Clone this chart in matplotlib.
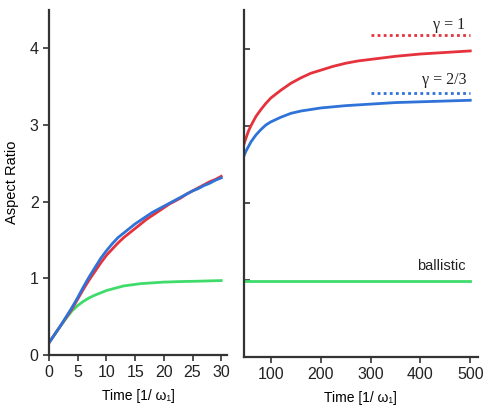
import matplotlib
matplotlib.use("Agg")
import matplotlib.pyplot as plt

plt.rcParams["font.family"] = ["Liberation Sans", "DejaVu Sans"]

# early times (left panel)
t_short = [0, 1, 2, 3, 4, 5, 6, 7, 8, 9, 10, 11, 12, 13, 14, 15, 16, 17, 18, 19, 20,
           21, 22, 23, 24, 25, 26, 27, 28, 29, 30]
red_short = [0.16, 0.27, 0.38, 0.49, 0.60, 0.73, 0.86, 0.98, 1.09, 1.20, 1.30, 1.38, 1.46,
             1.53, 1.59, 1.65, 1.71, 1.77, 1.82, 1.87, 1.92, 1.97, 2.01, 2.05, 2.10, 2.14,
             2.18, 2.22, 2.26, 2.29, 2.33]
blue_short = [0.16, 0.27, 0.38, 0.50, 0.62, 0.75, 0.89, 1.02, 1.14, 1.26, 1.36, 1.45, 1.53,
              1.59, 1.65, 1.71, 1.76, 1.81, 1.86, 1.90, 1.94, 1.98, 2.02, 2.06, 2.10, 2.14,
              2.17, 2.21, 2.24, 2.28, 2.31]
green_short = [0.16, 0.27, 0.38, 0.48, 0.575, 0.645, 0.70, 0.745, 0.78, 0.81, 0.84, 0.86, 0.88,
               0.90, 0.91, 0.92, 0.93, 0.935, 0.94, 0.945, 0.95, 0.952, 0.955, 0.957,
               0.959, 0.96, 0.962, 0.964, 0.966, 0.968, 0.97]

# late times (right panel)
t_long = [46, 50, 55, 60, 70, 80, 90, 100, 120, 140, 160, 180, 200, 225, 250, 275, 300,
          350, 400, 450, 500]
red_long = [2.76, 2.84, 2.93, 3.00, 3.12, 3.21, 3.29, 3.36, 3.46, 3.55, 3.62, 3.68, 3.72,
            3.77, 3.81, 3.84, 3.86, 3.90, 3.93, 3.95, 3.97]
blue_long = [2.61, 2.67, 2.73, 2.79, 2.88, 2.95, 3.01, 3.05, 3.11, 3.16, 3.19, 3.21, 3.23,
             3.245, 3.26, 3.27, 3.28, 3.30, 3.31, 3.32, 3.33]
green_long = [0.99] * len(t_long)

# asymptotes
asym_t = [300, 500]
gamma1 = 4.17
gamma23 = 3.42

RED = "#e5323c"
BLUE = "#2f72d8"
GREEN = "#3fdc6c"

fig = plt.figure(figsize=(4.86, 4.19), dpi=100)
ax1 = fig.add_axes([0.101, 0.153, 0.366, 0.823])
ax2 = fig.add_axes([0.502, 0.148, 0.481, 0.828])

for ax in (ax1, ax2):
    for s in ("top", "right"):
        ax.spines[s].set_visible(False)
    for s in ("left", "bottom"):
        ax.spines[s].set_linewidth(1.6)
        ax.spines[s].set_color("#333333")
    ax.set_ylim(0, 4.5)
    ax.set_yticks([0, 1, 2, 3, 4])
    ax.tick_params(labelsize=11.5, colors="#333333", labelcolor="#222222", width=1.2, length=4)

# left panel
ax1.plot(t_short, green_short, color=GREEN, lw=2)
ax1.plot(t_short, red_short, color=RED, lw=2)
ax1.plot(t_short, blue_short, color=BLUE, lw=2)
ax1.set_xlim(0, 31)
ax1.set_xticks([0, 5, 10, 15, 20, 25, 30])
ax1.set_ylabel("Aspect Ratio", fontsize=10.5, labelpad=8)
ax1.set_xlabel("Time [1/ ω\u2081]", fontsize=10, labelpad=6)

# right panel
ax2.plot(t_long, green_long, color=GREEN, lw=2)
ax2.plot(t_long, red_long, color=RED, lw=2)
ax2.plot(t_long, blue_long, color=BLUE, lw=2)
ax2.plot(asym_t, [gamma1, gamma1], color=RED, lw=2, linestyle=(0, (1, 1.2)))
ax2.plot(asym_t, [gamma23, gamma23], color=BLUE, lw=2, linestyle=(0, (1, 1.2)))
ax2.set_xlim(46, 515)
ax2.set_xticks([100, 200, 300, 400, 500])
ax2.tick_params(axis="y", direction="in", labelleft=False)
ax2.set_xlabel("Time [1/ ω\u2081]", fontsize=10, labelpad=6)

ax2.text(490, 4.26, "γ = 1", ha="right", va="baseline", fontsize=11.5,
         family=["Liberation Serif", "DejaVu Serif"], color="#222222")
ax2.text(492, 3.54, "γ = 2/3", ha="right", va="baseline", fontsize=11.5,
         family=["Liberation Serif", "DejaVu Serif"], color="#222222")
ax2.text(490, 1.13, "ballistic", ha="right", va="baseline", fontsize=10.5, color="#222222")

fig.savefig("out.png", dpi=100)
